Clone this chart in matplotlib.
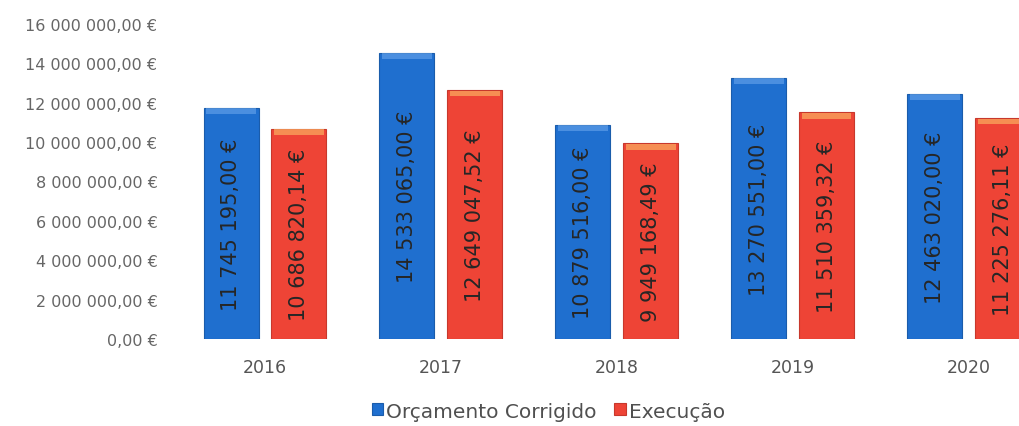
import matplotlib
matplotlib.use("Agg")
import matplotlib.pyplot as plt
import numpy as np

years = ["2016", "2017", "2018", "2019", "2020"]
orcamento = [11745195.00, 14533065.00, 10879516.00, 13270551.00, 12463020.00]
execucao = [10686820.14, 12649047.52, 9949168.49, 11510359.32, 11225276.11]
yticks = [0, 2e6, 4e6, 6e6, 8e6, 10e6, 12e6, 14e6, 16e6]
series_names = ["Orçamento Corrigido", "Execução"]

def fmt(v):
    s = f"{v:,.2f}"
    intpart, dec = s.split(".")
    return intpart.replace(",", " ") + "," + dec + " €"

plt.rcParams['font.family'] = ['DejaVu Sans']

fig = plt.figure(figsize=(10.19, 4.27), dpi=100)
ax = fig.add_axes([0.1737, 0.2037, 0.8633, 0.7378])

x = np.arange(len(years))
w = 0.3125
off = 0.193
blue = "#1f6fcf"
red = "#ee4436"
b1 = ax.bar(x - off, orcamento, w, color=blue, edgecolor="#1a5cab", linewidth=0.8, label=series_names[0])
b2 = ax.bar(x + off, execucao, w, color=red, edgecolor="#c8382c", linewidth=0.8, label=series_names[1])

# top highlight band (bevel effect)
band = 0.3e6
ax.bar(x - off, [band]*len(x), w * 0.9, bottom=np.array(orcamento) - band * 1.1, color="#6aa6ec", alpha=0.6, linewidth=0)
ax.bar(x + off, [band]*len(x), w * 0.9, bottom=np.array(execucao) - band * 1.1, color="#f9a85e", alpha=0.75, linewidth=0)

for xi, v in zip(x - off, orcamento):
    ax.text(xi, v / 2, fmt(v), rotation=90, ha="center", va="center", fontsize=15, color="#262626")
for xi, v in zip(x + off, execucao):
    ax.text(xi, v / 2, fmt(v), rotation=90, ha="center", va="center", fontsize=15, color="#262626")

ax.set_xlim(-0.5, 4.5)
ax.set_ylim(0, 16e6)
ax.set_yticks(yticks)
ax.set_yticklabels([fmt(v) for v in yticks], fontsize=11.5, color="#666666")
ax.set_xticks(x)
ax.set_xticklabels(years, fontsize=12.5, color="#555555")
ax.tick_params(axis="both", length=0)
ax.tick_params(axis="y", pad=14)
ax.tick_params(axis="x", pad=14)
for s in ax.spines.values():
    s.set_visible(False)

leg = fig.legend(handles=[b1, b2], labels=series_names, loc="center", bbox_to_anchor=(0.538, 0.035),
                 ncol=2, frameon=False, fontsize=14.5, handlelength=0.55, handleheight=0.55,
                 handletextpad=0.15, columnspacing=0.9, borderpad=0)
for t in leg.get_texts():
    t.set_color("#505050")

fig.savefig("out.png", dpi=100)
